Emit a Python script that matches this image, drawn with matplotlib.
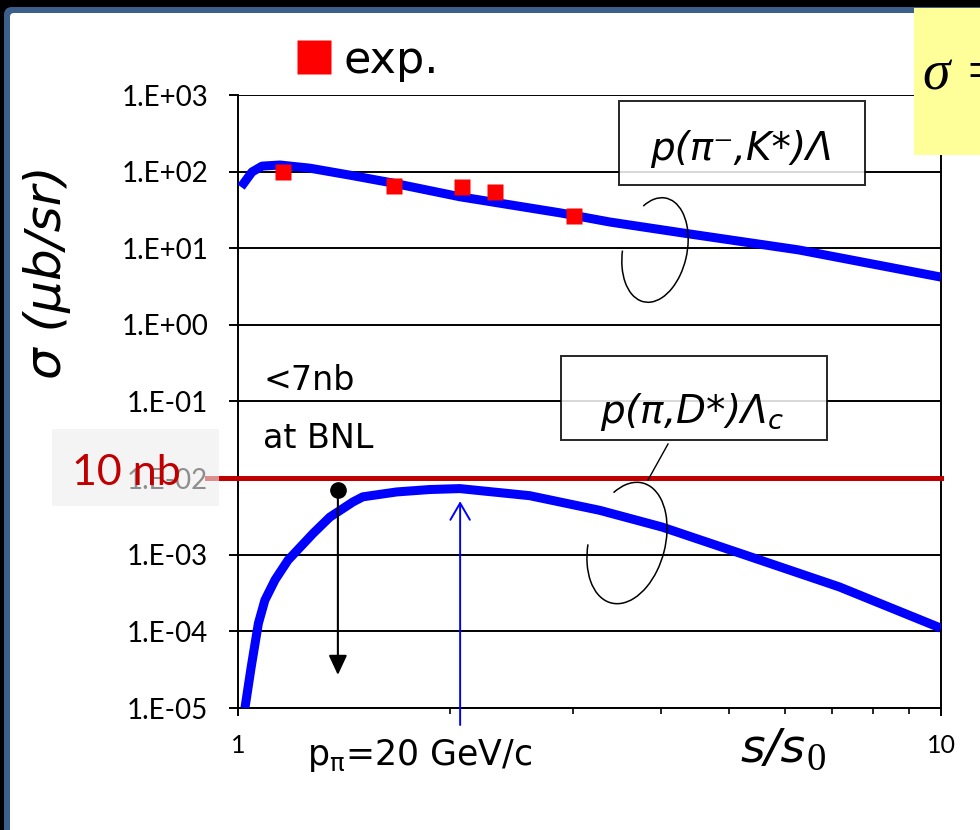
import numpy as np
import matplotlib.pyplot as plt
from matplotlib.patches import Rectangle, FancyBboxPatch, Arc
from matplotlib.lines import Line2D
from matplotlib.ticker import FixedLocator, NullFormatter

# theory curves: cross section vs s/s0
s_kstar = [1.01, 1.047, 1.082, 1.147, 1.265, 1.442, 1.66, 2.068, 2.87, 3.38, 4.34, 6.28, 10.0]
sig_kstar = [63, 99, 118, 122, 111, 90, 71, 47, 29, 22, 15.6, 9.5, 4.2]

s_dstar = [1.023, 1.044, 1.069, 1.092, 1.129, 1.178, 1.279, 1.351, 1.458, 1.505, 1.681, 1.874, 2.068,
           2.60, 3.27, 4.01, 5.17, 7.17, 10.0]
sig_dstar = [1e-5, 3.4e-5, 1.27e-4, 2.55e-4, 4.7e-4, 8.5e-4, 1.9e-3, 3.1e-3, 4.9e-3, 5.7e-3, 6.6e-3,
             7.1e-3, 7.3e-3, 5.9e-3, 3.8e-3, 2.3e-3, 1.05e-3, 3.8e-4, 1.1e-4]

# measured points
s_exp = [1.158, 1.667, 2.08, 2.32, 3.01]
sig_exp = [100, 65, 63, 55, 26]

# BNL upper limit and the 20 GeV/c beam point
s_bnl, sig_bnl, sig_bnl_end = 1.387, 7e-3, 2.7e-5
s_20gev, sig_arrow_lo, sig_arrow_hi = 2.07, 6e-6, 5e-3
sig_10nb = 1e-2

y_ticks = [1e3, 1e2, 1e1, 1e0, 1e-1, 1e-2, 1e-3, 1e-4, 1e-5]
y_tick_labels = ['1.E+03', '1.E+02', '1.E+01', '1.E+00', '1.E-01', '1.E-02', '1.E-03', '1.E-04', '1.E-05']
x_ticks = [1, 10]
x_tick_labels = ['1', '10']

W, H = 980, 830
fig = plt.figure(figsize=(W / 100, H / 100), dpi=100)
fig.patch.set_facecolor('black')

def fx(x):
    return x / W

def fy(y):
    return 1 - y / H

inch = fig.dpi_scale_trans

# slide frame
fig.add_artist(FancyBboxPatch((0.04, -1), 12, (H - 7) / 100 + 1, boxstyle='round,pad=0,rounding_size=0.08',
                              transform=inch, fc='#3C5F8C', ec='none', zorder=-3))
fig.add_artist(FancyBboxPatch((0.10, -1), 12, (H - 13) / 100 + 1, boxstyle='round,pad=0,rounding_size=0.04',
                              transform=inch, fc='white', ec='none', zorder=-2))

ax = fig.add_axes([fx(238), fy(708), fx(941) - fx(238), fy(95) - fy(708)])
ax.set_facecolor('none')
ax.set_xscale('log')
ax.set_yscale('log')
ax.set_xlim(1, 10)
ax.set_ylim(1e-5, 1e3)

ax.yaxis.set_major_locator(FixedLocator(y_ticks))
ax.set_yticklabels(y_tick_labels)
ax.yaxis.set_minor_locator(FixedLocator([]))
ax.xaxis.set_major_locator(FixedLocator(x_ticks))
ax.set_xticklabels(x_tick_labels)
ax.xaxis.set_minor_locator(FixedLocator([2, 3, 4, 5, 6, 7, 8, 9]))
ax.xaxis.set_minor_formatter(NullFormatter())

ax.grid(axis='y', which='major', color='black', lw=1.4)
ax.spines['top'].set_visible(False)
for sp in ['left', 'right', 'bottom']:
    ax.spines[sp].set_linewidth(1.4)
ax.tick_params(axis='y', which='major', direction='out', length=6.5, width=1.4, pad=15,
               labelsize=20, labelfontfamily='Lato')
ax.tick_params(axis='x', which='major', direction='out', length=6, width=1.4, pad=13,
               labelsize=18, labelfontfamily='Lato')
ax.tick_params(axis='x', which='minor', direction='out', length=4, width=1.2)

# curves
ax.plot(s_kstar, sig_kstar, color='#0000FF', lw=6.5, solid_capstyle='butt', solid_joinstyle='round', zorder=3)
ax.plot(s_dstar, sig_dstar, color='#0000FF', lw=6.5, solid_capstyle='butt', solid_joinstyle='round', zorder=3)
ax.plot(s_exp, sig_exp, ls='none', marker='s', ms=11, color='#FF0000', mec='none', zorder=4)

# 10 nb line
ax.plot([0.903, 10], [sig_10nb, sig_10nb], color='#C00000', lw=3.6, clip_on=False, zorder=3)

# BNL limit
ax.plot([s_bnl], [sig_bnl], marker='o', ms=11, color='black', zorder=4)
ax.annotate('', xy=(s_bnl, sig_bnl_end), xytext=(s_bnl, sig_bnl),
            arrowprops=dict(arrowstyle='-|>,head_length=0.6,head_width=0.28', color='black',
                            lw=1.5, mutation_scale=20, shrinkA=0, shrinkB=0))
ax.annotate('', xy=(s_20gev, sig_arrow_hi), xytext=(s_20gev, sig_arrow_lo), annotation_clip=False,
            arrowprops=dict(arrowstyle='->,head_length=0.6,head_width=0.35', color='#0000FF',
                            lw=1.4, mutation_scale=20, shrinkA=0, shrinkB=0))

# legend
ax.legend(handles=[Line2D([], [], ls='none', marker='s', ms=24, color='#FF0000', mec='none')],
          labels=['exp.'], loc='center left', bbox_to_anchor=(fx(292), fy(60)), bbox_transform=fig.transFigure,
          frameon=False, handlelength=1.0, handletextpad=0.15, borderpad=0, borderaxespad=0,
          prop={'family': 'DejaVu Sans', 'size': 32})

# axis titles
fig.text(fx(47), fy(272), 'σ (μb/sr)', rotation=90, ha='center', va='center', fontsize=36,
         style='italic', family='DejaVu Sans')
fig.text(fx(740), fy(762), 's/s', ha='left', va='baseline', fontsize=34, style='italic', family='DejaVu Sans')
fig.text(fx(806), fy(770), '0', ha='left', va='baseline', fontsize=28, family='Liberation Serif')
fig.text(fx(307), fy(765), r'p$_{\mathrm{\pi}}$=20 GeV/c', ha='left', va='baseline', fontsize=25,
         family='DejaVu Sans')

fig.text(fx(263), fy(390), '<7nb', ha='left', va='baseline', fontsize=24, family='DejaVu Sans')
fig.text(fx(263), fy(448), 'at BNL', ha='left', va='baseline', fontsize=24, family='DejaVu Sans')

# 10 nb tag over the 1.E-02 label
fig.add_artist(Rectangle((fx(52), fy(506)), fx(219) - fx(52), fy(429) - fy(506), transform=fig.transFigure,
                         fc='#EEEEEE', ec='none', alpha=0.6, zorder=5))
fig.text(fx(72), fy(485), '10 nb', ha='left', va='baseline', fontsize=31, family='Lato', color='#C00000', zorder=6)

# reaction labels
fig.add_artist(Rectangle((fx(619), fy(185)), fx(865) - fx(619), fy(101) - fy(185), transform=fig.transFigure,
                         fc='white', ec='black', lw=1.4, alpha=0.85, zorder=5))
fig.text(fx(741), fy(160), 'p(π⁻,K*)Λ', ha='center', va='baseline', fontsize=28, style='italic',
         family='DejaVu Sans', zorder=6)
fig.add_artist(Rectangle((fx(561), fy(440)), fx(827) - fx(561), fy(356) - fy(440), transform=fig.transFigure,
                         fc='white', ec='black', lw=1.4, alpha=0.85, zorder=5))
fig.text(fx(692), fy(423), 'p(π,D*)Λ$_c$', ha='center', va='baseline', fontsize=28, style='italic',
         family='DejaVu Sans', zorder=6)

# hand-drawn loops around the curves
fig.add_artist(Arc((655 / 100, (H - 250) / 100), 0.64, 1.06, angle=-12, theta1=193, theta2=477,
                   transform=inch, color='black', lw=1.1, zorder=6))
fig.add_artist(Arc((627 / 100, (H - 543) / 100), 0.76, 1.24, angle=-15, theta1=197, theta2=480,
                   transform=inch, color='black', lw=1.1, zorder=6))
fig.add_artist(Line2D([fx(648), fx(668)], [fy(480), fy(444)], transform=fig.transFigure,
                      color='black', lw=1.0, zorder=6))

# yellow formula box at the edge
fig.add_artist(Rectangle((fx(914), fy(155)), fx(990) - fx(914), fy(8) - fy(155), transform=fig.transFigure,
                         fc='#FFFF99', ec='none', zorder=7))
fig.text(fx(923), fy(90), 'σ =', ha='left', va='baseline', fontsize=40, style='italic',
         family='Liberation Serif', zorder=8)

fig.savefig('out.png', dpi=100, facecolor=fig.get_facecolor())
